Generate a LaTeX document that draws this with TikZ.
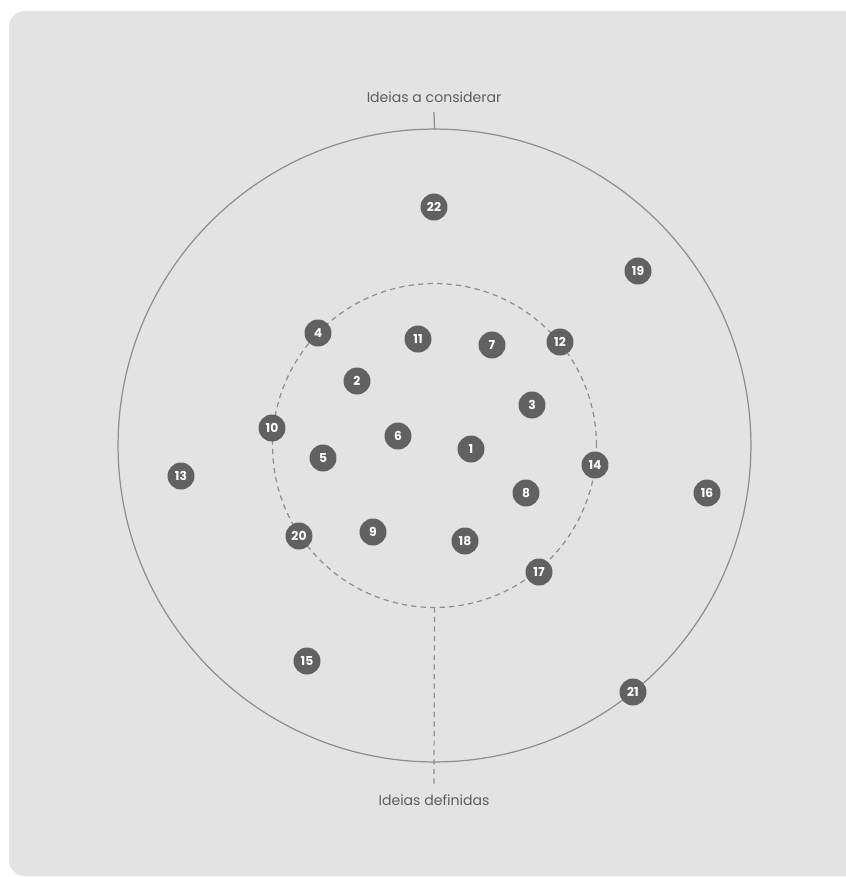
\documentclass[tikz,border=0pt]{standalone}
\usepackage{fontspec}
\setmainfont{Poppins}
\usetikzlibrary{positioning}

\definecolor{fundo}{HTML}{E3E3E3}
\definecolor{traco}{HTML}{8E8E8E}
\definecolor{ideia}{HTML}{616161}
\definecolor{rotulo}{HTML}{5E5E5E}

\begin{document}
\begin{tikzpicture}[x=0.02cm,y=-0.02cm,
 ideia/.style={circle,fill=ideia,text=white,minimum size=0.54cm,inner sep=0pt,font=\fontsize{7}{8}\selectfont\bfseries},
 anel/.style={circle,draw=traco,line width=0.7pt,inner sep=0pt,outer sep=0pt},
 rotulo/.style={text=rotulo,font=\fontsize{8}{9.5}\selectfont,inner sep=5.2pt},
 linha/.style={draw=traco,line width=0.7pt},
 tracejado/.style={linha,dash pattern=on 3pt off 2.4pt}]
\clip (0,0) rectangle (846,877);
\fill[fundo,rounded corners=9pt] (9,11) rectangle (880,876);
% aneis
\node[anel,minimum size=12.66cm] (considerar) at (434.5,445.5) {};
\node[anel,minimum size=6.48cm,draw=none] (definidas) at (434.5,445.5) {};
\draw[tracejado] (definidas) circle[radius=3.24cm];
% rotulos
\node[rotulo] (lblconsiderar) at (434,97) {Ideias a considerar};
\node[rotulo] (lbldefinidas) at (434,800) {Ideias definidas};
\draw[linha] (lblconsiderar.south) -- (considerar.north);
\draw[tracejado] (definidas.south) -- (lbldefinidas.north);
% ideias
\node[ideia] (i1) at (471,449) {1};
\node[ideia] (i2) at (357,381) {2};
\node[ideia] (i3) at (532,405) {3};
\node[ideia] (i4) at (318,333) {4};
\node[ideia] (i5) at (323,458) {5};
\node[ideia] (i6) at (398,436) {6};
\node[ideia] (i7) at (492,345) {7};
\node[ideia] (i8) at (526,493) {8};
\node[ideia] (i9) at (373,532) {9};
\node[ideia] (i10) at (272,428) {10};
\node[ideia] (i11) at (418,339) {11};
\node[ideia] (i12) at (560,342) {12};
\node[ideia] (i13) at (181,476) {13};
\node[ideia] (i14) at (595,465) {14};
\node[ideia] (i15) at (307,661) {15};
\node[ideia] (i16) at (707,493) {16};
\node[ideia] (i17) at (539,572) {17};
\node[ideia] (i18) at (465,541) {18};
\node[ideia] (i19) at (638,271) {19};
\node[ideia] (i20) at (299,536) {20};
\node[ideia] (i21) at (633,692) {21};
\node[ideia] (i22) at (434,207) {22};
\end{tikzpicture}
\end{document}
